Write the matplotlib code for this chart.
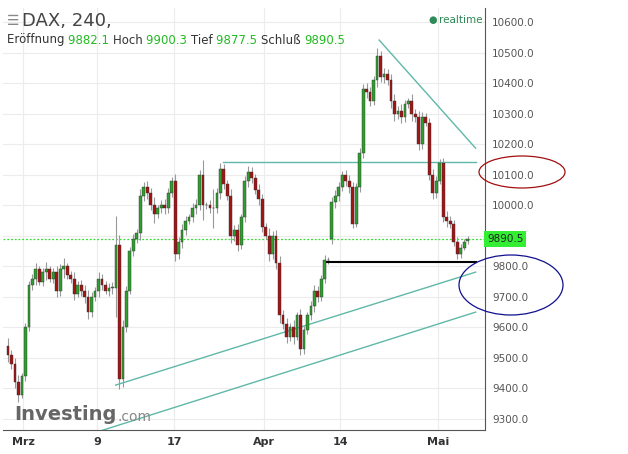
import matplotlib
matplotlib.use("Agg")
import matplotlib.pyplot as plt
from matplotlib.patches import Ellipse, Rectangle

closes = [9510,9480,9420,9380,9440,9600,9740,9760,9790,9750,9780,9790,9760,9780,9720,9790,9800,9770,9760,9710,
          9740,9720,9700,9650,9700,9720,9760,9740,9720,9730,9730,9870,9430,9600,9720,9850,9890,9910,10030,10060,
          10040,10000,9970,9990,10000,9990,10040,10080,9840,9880,9920,9950,9960,9990,10000,10100,10000,10000,9990,9990,
          10040,10120,10070,10030,9900,9920,9870,9960,10080,10110,10090,10050,10020,9930,9900,9840,9900,9810,9640,9610,
          9570,9600,9570,9640,9530,9590,9640,9670,9720,9700,9760,9820,9820,10010,10030,10060,10100,10080,10060,9940,
          10060,10170,10380,10370,10340,10410,10490,10420,10430,10410,10340,10300,10310,10290,10330,10340,10300,10290,10200,10290,
          10270,10100,10040,10080,10140,9960,9950,9940,9880,9840,9860,9880,9890.5]
opens = [9540] + closes[:-1]
opens[93] = 9890
opens[-1] = 9882.1
wicks = [30,20,25,30,15,20,15,20,25,15,20,30,15,20,25,20,35,15,20,25,
         15,20,25,30,20,15,25,20,15,20,25,120,40,30,20,15,20,15,30,20,
         25,20,35,15,20,25,20,15,30,20,25,20,15,20,25,20,60,15,20,80,
         20,25,20,15,30,20,25,15,20,25,20,15,25,20,15,30,20,25,30,20,
         25,20,30,15,25,20,15,20,25,20,15,20,15,20,25,20,15,20,25,20,
         15,20,20,25,20,15,30,20,25,20,25,30,20,25,20,15,30,20,25,20,
         15,20,25,20,15,20,25,20,15,20,15,10,10]
date_pos = [4.3, 25.7, 47.7, 73.4, 95.4, 123.4]
date_labels = ["Mrz", "9", "17", "Apr", "14", "Mai"]
price_ticks = [9300, 9400, 9500, 9600, 9700, 9800, 9900, 10000, 10100, 10200, 10300, 10400, 10500, 10600]
last_price = 9890.5

W, H = 628, 454
fig = plt.figure(figsize=(W/100, H/100), dpi=100)
ax = fig.add_axes([0.005, 24/H, 485/W - 0.005, 422/H])
ax.set_xlim(-1.4, 137)
ax.set_ylim(9264, 10646)

green, red = "#2f9e2f", "#a31515"
for i, (o, c, w) in enumerate(zip(opens, closes, wicks)):
    lo, hi = min(o, c), max(o, c)
    ax.vlines(i, lo - w*0.8, hi + w*0.8, color="#999999", lw=0.8, zorder=2)
    col = green if c >= o else red
    ax.add_patch(Rectangle((i-0.4, lo), 0.8, max(hi-lo, 2), facecolor=col, edgecolor="#333333", lw=0.3, zorder=3))

for p in price_ticks:
    ax.axhline(p, color="#ececec", lw=0.8, zorder=0)
for d in date_pos:
    ax.axvline(d, color="#ececec", lw=0.8, zorder=0)
ax.axhline(last_price, color="#33dd33", lw=0.9, ls=(0, (1.5, 1.5)), zorder=1)

teal = "#5fb8a8"
ax.plot([61.7, 134.3], [10142, 10142], color=teal, lw=1)
ax.plot([106.6, 134.3], [10541, 10187], color=teal, lw=1)
ax.plot([91.4, 134.3], [9814, 9814], color="black", lw=1.5)
ax.plot([30.9, 134.3], [9411, 9781], color=teal, lw=1)
ax.plot([25.7, 134.3], [9258, 9650], color=teal, lw=1)

ax.set_xticks(date_pos)
ax.set_xticklabels(date_labels, fontsize=8, color="#333333", fontweight="bold")
ax.yaxis.tick_right()
ax.set_yticks(price_ticks)
ax.set_yticklabels(["" if p == 9900 else f"{p:.1f}" for p in price_ticks], fontsize=7.5, color="#555555")
ax.tick_params(length=0, pad=5)
for s in ["top", "left"]:
    ax.spines[s].set_visible(False)
ax.spines["right"].set_color("#555555")
ax.spines["bottom"].set_color("#555555")

fig.text(487/W, 1 - 239/H, f"{last_price:.1f}", fontsize=7.5, color="#222222", va="center",
         bbox=dict(boxstyle="square,pad=0.25", fc="#33ee33", ec="none"))

fig.text(22/W, 1 - 21/H, "DAX, 240,", fontsize=13, color="#444444", va="center")
fig.text(7/W, 1 - 21/H, "☰", fontsize=10, color="#888888", va="center")
xs = 7
parts = [("Eröffnung ", "#333333"), ("9882.1 ", "#22bb22"), ("Hoch ", "#333333"), ("9900.3 ", "#22bb22"),
         ("Tief ", "#333333"), ("9877.5 ", "#22bb22"), ("Schluß ", "#333333"), ("9890.5", "#22bb22")]
fig.canvas.draw()
r = fig.canvas.get_renderer()
for t, c in parts:
    tx = fig.text(xs/W, 1 - 40/H, t, fontsize=8.5, color=c, va="center")
    xs += tx.get_window_extent(r).width
fig.text(433/W, 1 - 20/H, "●", fontsize=7, color="#2e8b57", va="center", ha="center")
fig.text(439/W, 1 - 20/H, "realtime", fontsize=7.5, color="#2e8b57", va="center")
t1 = fig.text(14/W, 1 - 415/H, "Investing", fontsize=14, color="#666666", fontweight="bold", va="center")
x_end = 14 + t1.get_window_extent(r).width
fig.text((x_end + 1)/W, 1 - 417/H, ".com", fontsize=10, color="#888888", va="center")

fig.add_artist(Ellipse((522/W, 1 - 172/H), 86/W, 32/H, transform=fig.transFigure, fill=False, ec="#a01010", lw=0.9))
fig.add_artist(Ellipse((511/W, 1 - 285/H), 104/W, 60/H, transform=fig.transFigure, fill=False, ec="#101090", lw=0.9))

fig.savefig("out.png", dpi=100)
